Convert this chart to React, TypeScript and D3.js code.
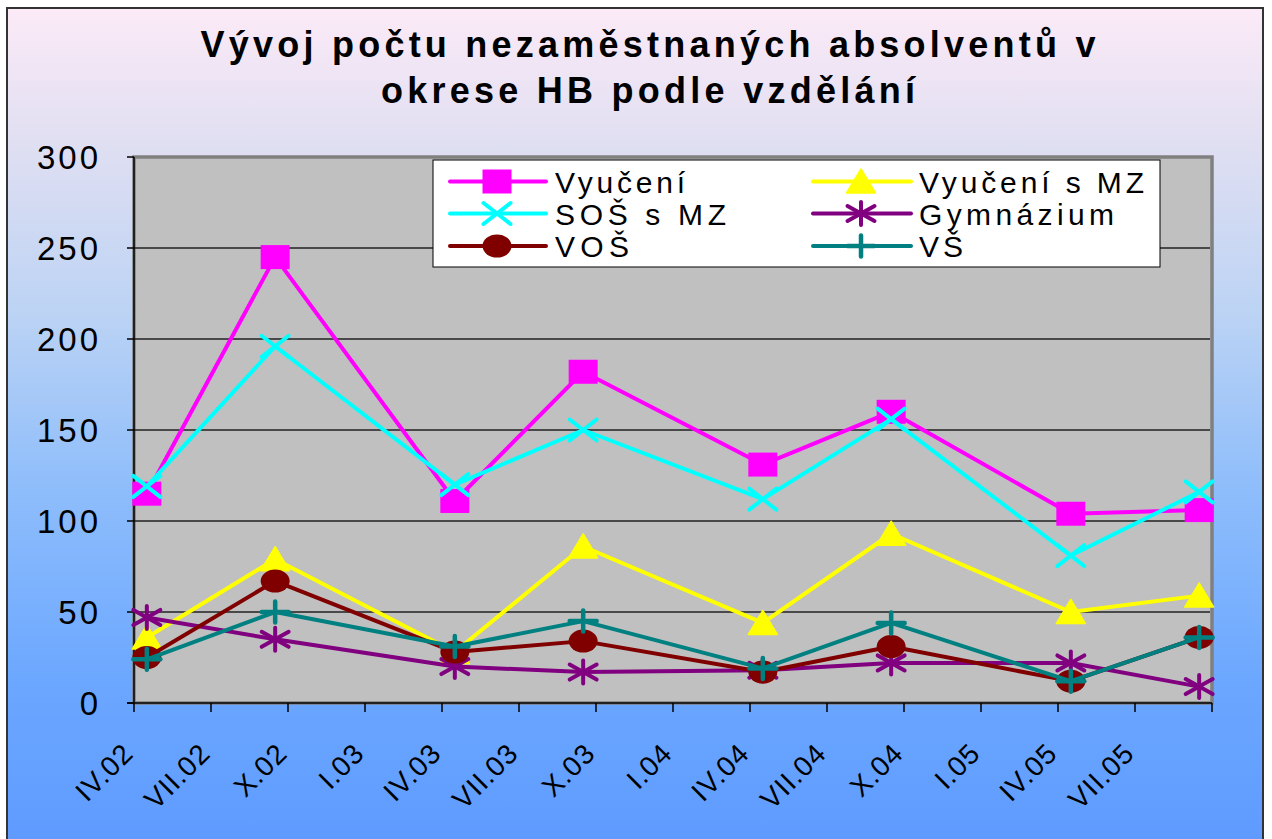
import React from "react";
import * as d3 from "d3";

// ---------- data ----------
const months = ["2002-04", "2002-09", "2003-04", "2003-09", "2004-04", "2004-09", "2005-04", "2005-09"];
const vyuceni = [115, 245, 111, 182, 131, 160, 104, 106];
const vyuceniMZ = [36, 79, 28, 86, 44, 93, 50, 59];
const sosMZ = [119, 196, 120, 150, 112, 156, 81, 116];
const gymnazium = [47, 35, 20, 17, 18, 22, 22, 9];
const vos = [25, 67, 28, 34, 17, 31, 12, 36];
const vs = [24, 50, 31, 45, 19, 44, 12, 36];

const seriesNames = ["Vyučení", "Vyučení s MZ", "SOŠ s MZ", "Gymnázium", "VOŠ", "VŠ"];
const seriesColors = ["#FF00FF", "#FFFF00", "#00FFFF", "#800080", "#800000", "#008080"];
const seriesMarkers = ["square", "triangle", "x", "star", "circle", "plus"];
const seriesValues = [vyuceni, vyuceniMZ, sosMZ, gymnazium, vos, vs];

const tickLabels = ["IV.02", "VII.02", "X.02", "I.03", "IV.03", "VII.03", "X.03", "I.04", "IV.04", "VII.04", "X.04", "I.05", "IV.05", "VII.05"];
const axisStart = "2002-04";
const axisEnd = "2005-10";
const yTicks = [0, 50, 100, 150, 200, 250, 300];

const titleLines = ["Vývoj počtu nezaměstnaných absolventů v", "okrese HB podle vzdělání"];

// ---------- layout ----------
const W = 1272;
const H = 839;
const plot = { left: 134, right: 1212, top: 157, bottom: 703 };
const FONT = "'Liberation Sans', Arial, Helvetica, sans-serif";

const parseMonth = d3.timeParse("%Y-%m");
const start = parseMonth(axisStart) as Date;
const end = parseMonth(axisEnd) as Date;
const totalMonths = d3.timeMonth.count(start, end);
const monthIdx = (m: string) => d3.timeMonth.count(start, parseMonth(m) as Date);

const x = d3.scaleLinear().domain([0, totalMonths]).range([plot.left, plot.right]);
const y = d3.scaleLinear().domain([0, 300]).range([plot.bottom, plot.top]);

const MW = 14.5; // half marker width
const MH = 11.5; // half marker height

function Marker({ type, color, cx, cy }: { type: string; color: string; cx: number; cy: number }) {
  const t = `translate(${cx},${cy})`;
  switch (type) {
    case "square":
      return <rect transform={t} x={-MW} y={-MH - 0.5} width={MW * 2} height={MH * 2 + 1} fill={color} />;
    case "triangle":
      return (
        <path
          transform={t}
          d={`M0,${-MH - 1}L${MW},${MH}L${-MW},${MH}Z`}
          fill={color}
          stroke={color}
          strokeWidth={1.5}
          strokeLinejoin="round"
        />
      );
    case "circle":
      return <ellipse transform={t} rx={MW} ry={MH} fill={color} />;
    case "x":
      return (
        <g transform={t} stroke={color} strokeWidth={4} strokeLinecap="round">
          <line x1={-MW + 1} y1={-MH + 1} x2={MW - 1} y2={MH - 1} />
          <line x1={-MW + 1} y1={MH - 1} x2={MW - 1} y2={-MH + 1} />
        </g>
      );
    case "star":
      return (
        <g transform={t} stroke={color} strokeWidth={4} strokeLinecap="round">
          <line x1={-MW + 1} y1={-MH + 4} x2={MW - 1} y2={MH - 4} />
          <line x1={-MW + 1} y1={MH - 4} x2={MW - 1} y2={-MH + 4} />
          <line x1={0} y1={-MH} x2={0} y2={MH} />
        </g>
      );
    case "plus":
      return (
        <g transform={t} stroke={color} strokeWidth={4.5} strokeLinecap="round">
          <line x1={-MW + 1} y1={0} x2={MW - 1} y2={0} />
          <line x1={0} y1={-MH + 1} x2={0} y2={MH - 1} />
        </g>
      );
    default:
      return null;
  }
}

export default function App() {
  const line = d3
    .line<[number, number]>()
    .x((d) => d[0])
    .y((d) => d[1]);

  const legendBox = { x: 433, y: 160, w: 727, h: 107 };
  const legendCols = [
    { lineX1: 450, lineX2: 546, markerX: 497, textX: 555 },
    { lineX1: 813, lineX2: 911, markerX: 861, textX: 919 },
  ];
  const legendRowY = [181.5, 213.5, 246];
  const legendTextLen = [130, 225, 171, 195, 74, 44];

  const majorTicks = d3.range(0, totalMonths + 1, 3);

  return (
    <svg
      width={W}
      height={H}
      style={{ position: "absolute", left: 0, top: 0, display: "block" }}
      fontFamily={FONT}
    >
      <defs>
        <linearGradient id="bg" x1="0" y1="0" x2="0" y2="1">
          <stop offset="0" stopColor="#FCEAF7" />
          <stop offset="0.16" stopColor="#E0DFF2" />
          <stop offset="0.36" stopColor="#BCD3F4" />
          <stop offset="0.56" stopColor="#90BEFB" />
          <stop offset="0.8" stopColor="#6BA7FF" />
          <stop offset="1" stopColor="#5E9AFF" />
        </linearGradient>
      </defs>
      <rect x={0} y={0} width={W} height={H} fill="#FFFFFF" />
      <rect x={7} y={8} width={1256} height={845} fill="url(#bg)" stroke="#333" strokeWidth={2} />

      {/* title */}
      {titleLines.map((tl, i) => (
        <text
          key={i}
          x={648}
          y={57 + i * 46}
          textAnchor="middle"
          fontSize={36}
          fontWeight="bold"
          fill="#000"
          textLength={i === 0 ? 895 : 534}
          lengthAdjust="spacing"
        >
          {tl}
        </text>
      ))}

      {/* plot area */}
      <rect
        x={plot.left}
        y={plot.top}
        width={plot.right - plot.left}
        height={plot.bottom - plot.top}
        fill="#C0C0C0"
        stroke="#808080"
        strokeWidth={3.5}
      />
      {yTicks
        .filter((v) => v > 0 && v < 300)
        .map((v) => (
          <line key={v} x1={plot.left} x2={plot.right - 2} y1={y(v)} y2={y(v)} stroke="#222" strokeWidth={1.3} />
        ))}

      {/* axes */}
      <line x1={plot.left} x2={plot.left} y1={plot.top} y2={plot.bottom} stroke="#000" strokeWidth={1.5} />
      <line x1={plot.left - 7} x2={plot.right} y1={plot.bottom} y2={plot.bottom} stroke="#000" strokeWidth={1.5} />
      {yTicks.map((v) => (
        <g key={v}>
          <line x1={plot.left - 7} x2={plot.left} y1={y(v)} y2={y(v)} stroke="#000" strokeWidth={1.5} />
          <text x={101} y={y(v) + 12} textAnchor="end" fontSize={33} letterSpacing={3} fill="#000">
            {v}
          </text>
        </g>
      ))}
      {majorTicks.map((m) => (
        <line key={m} x1={x(m)} x2={x(m)} y1={plot.bottom} y2={plot.bottom + 9} stroke="#000" strokeWidth={1.5} />
      ))}
      {tickLabels.map((lab, i) => {
        const tx = x(i * 3) + 1;
        const ty = plot.bottom + 52;
        return (
          <text
            key={lab}
            transform={`translate(${tx},${ty}) rotate(-45)`}
            textAnchor="end"
            fontSize={28}
            letterSpacing={1}
            fill="#000"
          >
            {lab}
          </text>
        );
      })}

      {/* series */}
      {seriesValues.map((vals, si) => {
        const pts: [number, number][] = vals.map((v, i) => [x(monthIdx(months[i]) + 0.5), y(v)]);
        return (
          <g key={si}>
            <path d={line(pts) || ""} fill="none" stroke={seriesColors[si]} strokeWidth={4} strokeLinejoin="round" />
            {pts.map((p, i) => (
              <Marker key={i} type={seriesMarkers[si]} color={seriesColors[si]} cx={p[0]} cy={p[1]} />
            ))}
          </g>
        );
      })}

      {/* legend */}
      <rect x={legendBox.x} y={legendBox.y} width={legendBox.w} height={legendBox.h} fill="#FFFFFF" stroke="#000" strokeWidth={1} />
      {seriesNames.map((name, si) => {
        const col = legendCols[si % 2];
        const ry = legendRowY[Math.floor(si / 2)];
        return (
          <g key={name}>
            <line x1={col.lineX1} x2={col.lineX2} y1={ry} y2={ry} stroke={seriesColors[si]} strokeWidth={4} strokeLinecap="round" />
            <Marker type={seriesMarkers[si]} color={seriesColors[si]} cx={col.markerX} cy={ry} />
            <text
              x={col.textX}
              y={ry + 11}
              fontSize={30}
              fill="#000"
              textLength={legendTextLen[si]}
              lengthAdjust="spacing"
            >
              {name}
            </text>
          </g>
        );
      })}
    </svg>
  );
}
